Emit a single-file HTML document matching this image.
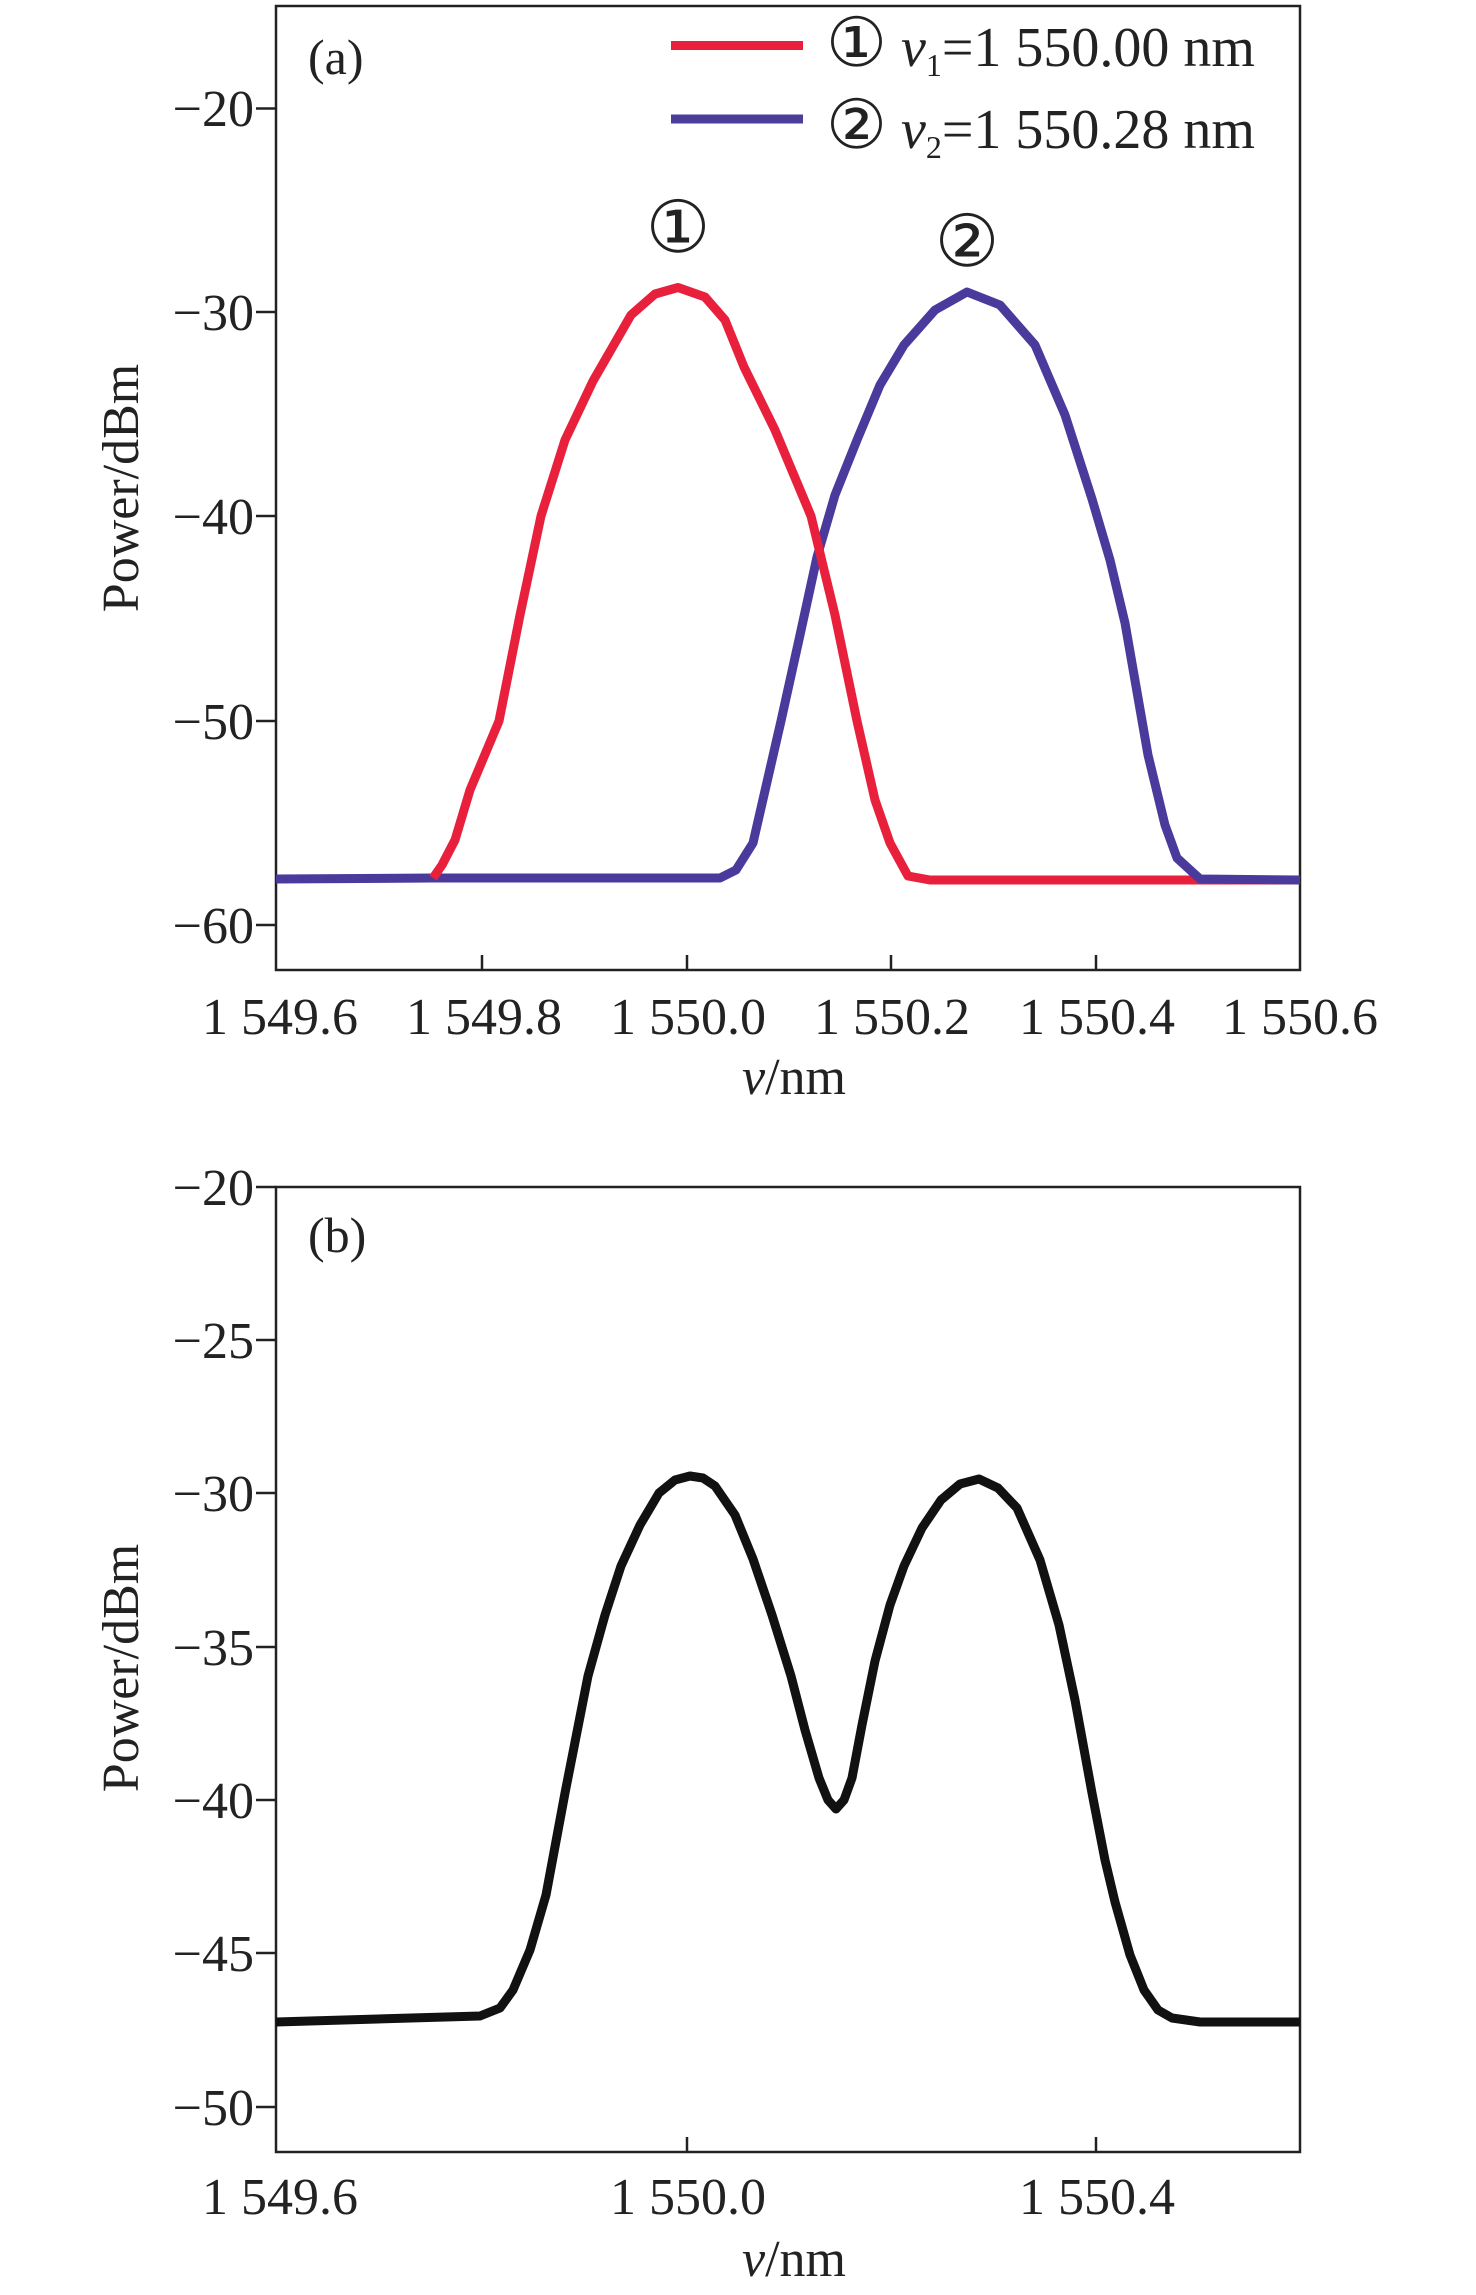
<!DOCTYPE html>
<html><head><meta charset="utf-8"><style>
html,body{margin:0;padding:0;background:#fff}
svg{display:block}
text{font-family:"Liberation Serif",serif;fill:#222}
</style></head><body>
<svg width="1476" height="2295" viewBox="0 0 1476 2295" xmlns="http://www.w3.org/2000/svg">
<g font-size="52">
<!-- Panel a -->
<rect x="276" y="6" width="1024" height="964" fill="none" stroke="#222" stroke-width="2.5"/>
<g stroke="#222" stroke-width="2.5">
<line x1="256" y1="108.5" x2="276" y2="108.5"/><line x1="256" y1="312" x2="276" y2="312"/>
<line x1="256" y1="516" x2="276" y2="516"/><line x1="256" y1="721" x2="276" y2="721"/>
<line x1="256" y1="925" x2="276" y2="925"/>
<line x1="482" y1="970" x2="482" y2="955"/><line x1="687" y1="970" x2="687" y2="955"/>
<line x1="891" y1="970" x2="891" y2="955"/><line x1="1096" y1="970" x2="1096" y2="955"/>
</g>
<g text-anchor="end">
<text x="254" y="126">−20</text><text x="254" y="330">−30</text><text x="254" y="534">−40</text>
<text x="254" y="739">−50</text><text x="254" y="943">−60</text>
</g>
<g text-anchor="middle">
<text x="280" y="1034">1 549.6</text><text x="484" y="1034">1 549.8</text><text x="688" y="1034">1 550.0</text>
<text x="892" y="1034">1 550.2</text><text x="1097" y="1034">1 550.4</text><text x="1300" y="1034">1 550.6</text>
<text x="794" y="1094"><tspan font-style="italic">v</tspan>/nm</text>
<text x="0" y="0" transform="translate(138,488) rotate(-90)">Power/dBm</text>
<text x="678" y="252" font-size="72">①</text>
<text x="967" y="266" font-size="72">②</text>
</g>
<text x="308" y="74" font-size="50">(a)</text>
<line x1="671" y1="45.5" x2="803" y2="45.5" stroke="#e8203c" stroke-width="9"/>
<line x1="671" y1="119" x2="803" y2="119" stroke="#4a3e99" stroke-width="9"/>
<text x="826" y="66" font-size="56"><tspan font-size="68">①</tspan> <tspan font-style="italic">v</tspan><tspan font-size="32" dy="10">1</tspan><tspan dy="-10">=1 550.00 nm</tspan></text>
<text x="826" y="148" font-size="56"><tspan font-size="68">②</tspan> <tspan font-style="italic">v</tspan><tspan font-size="32" dy="10">2</tspan><tspan dy="-10">=1 550.28 nm</tspan></text>
<polyline fill="none" stroke="#e8203c" stroke-width="9" stroke-linejoin="round" points="1120,880 1300,880"/>
<polyline fill="none" stroke="#4a3a9c" stroke-width="9" stroke-linejoin="round" points="276,879 433,878 720,878 736,870 753,843 781,721 800,635 817,557 835,495 857,440 880,385 904,345 935,310 967,292 1000,305 1035,345 1065,415 1092,499 1110,560 1125,623 1148,755 1165,825 1177,858 1200,879 1300,880"/>
<polyline fill="none" stroke="#e8203c" stroke-width="9" stroke-linejoin="round" points="433,878 442,865 455,840 470,790 499,721 520,615 541,516 565,440 593,381 631,315 655,294 678,287.5 705,297 725,320 744,367 775,430 811,516 835,615 857,721 875,800 890,843 908,876 930,880 1120,880"/>
<!-- Panel b -->
<rect x="276" y="1187" width="1024" height="965" fill="none" stroke="#222" stroke-width="2.5"/>
<g stroke="#222" stroke-width="2.5">
<line x1="256" y1="1187" x2="276" y2="1187"/><line x1="256" y1="1340" x2="276" y2="1340"/>
<line x1="256" y1="1493" x2="276" y2="1493"/><line x1="256" y1="1647" x2="276" y2="1647"/>
<line x1="256" y1="1800" x2="276" y2="1800"/><line x1="256" y1="1953" x2="276" y2="1953"/>
<line x1="256" y1="2107" x2="276" y2="2107"/>
<line x1="687" y1="2152" x2="687" y2="2137"/><line x1="1096" y1="2152" x2="1096" y2="2137"/>
</g>
<g text-anchor="end">
<text x="254" y="1205">−20</text><text x="254" y="1358">−25</text><text x="254" y="1511">−30</text>
<text x="254" y="1665">−35</text><text x="254" y="1818">−40</text><text x="254" y="1971">−45</text>
<text x="254" y="2125">−50</text>
</g>
<g text-anchor="middle">
<text x="280" y="2214">1 549.6</text><text x="688" y="2214">1 550.0</text><text x="1097" y="2214">1 550.4</text>
<text x="794" y="2276"><tspan font-style="italic">v</tspan>/nm</text>
<text x="0" y="0" transform="translate(138,1668) rotate(-90)">Power/dBm</text>
</g>
<text x="308" y="1252" font-size="50">(b)</text>
<polyline fill="none" stroke="#111" stroke-width="9" stroke-linejoin="round" points="276,2022 480,2016 500,2008 513,1990 530,1950 546,1895 565,1793 588,1676 605,1615 621,1566 640,1525 659,1493 675,1480 690,1476 703,1478 715,1486 735,1515 753,1559 772,1615 791,1676 805,1730 819,1778 828,1800 836,1809 844,1800 852,1778 862,1725 875,1661 890,1605 904,1566 922,1528 941,1500 960,1484 979,1479 998,1488 1017,1508 1040,1560 1059,1625 1075,1700 1092,1793 1105,1860 1115,1902 1130,1955 1144,1990 1158,2010 1172,2018 1200,2022 1300,2022"/>
</g>
</svg>
</body></html>
